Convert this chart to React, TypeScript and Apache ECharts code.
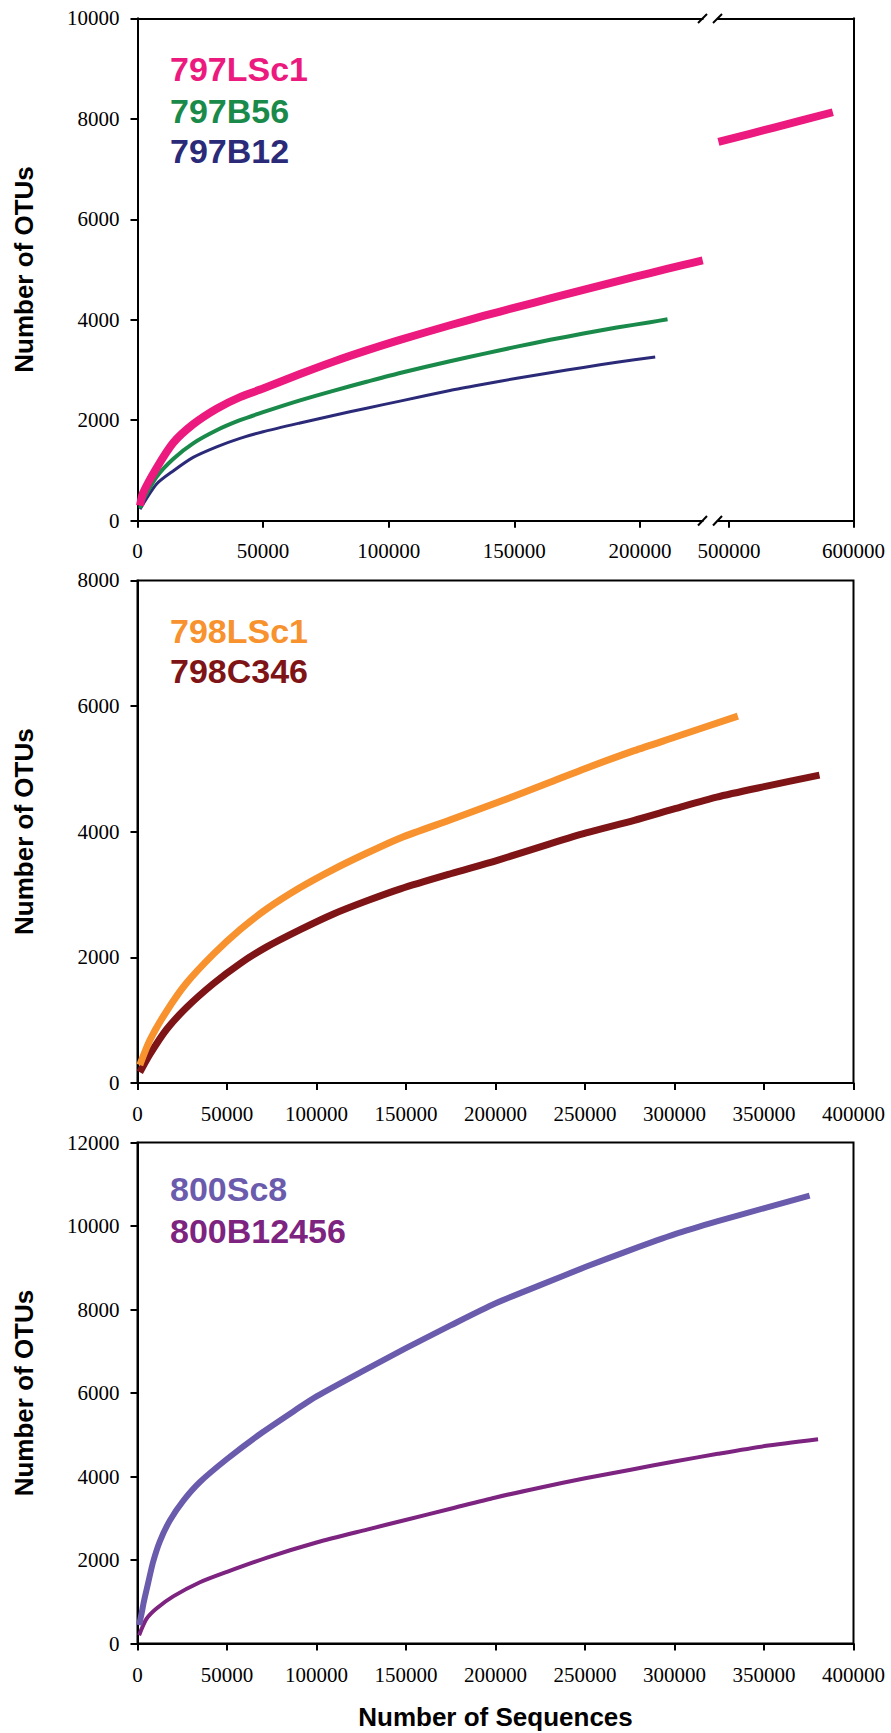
import React, { useEffect, useRef } from "react";
import * as echarts from "echarts";

// ---------- data ----------
// Panel 1 (site 797)
const lsc797Left: [number, number][] = [
  [1000, 300], [2200, 550], [7600, 1050], [14200, 1550], [22150, 1920], [31500, 2230],
  [40800, 2460], [50000, 2630], [64700, 2920], [77900, 3165], [91200, 3390], [104500, 3600],
  [124400, 3890], [137700, 4075], [151000, 4250], [164300, 4425], [177500, 4595],
  [190800, 4765], [204100, 4930], [217400, 5090], [225000, 5180],
];
const lsc797Right: [number, number][] = [
  [491500, 7540], [537000, 7830], [583400, 8130],
];
const b56_797: [number, number][] = [
  [1000, 250], [2200, 410], [7600, 875], [14200, 1230], [22150, 1540], [31500, 1800],
  [40800, 2000], [50000, 2160], [64700, 2395], [77900, 2585], [91200, 2765], [104500, 2940],
  [124400, 3175], [137700, 3320], [151000, 3465], [164300, 3600], [177500, 3725],
  [190800, 3845], [204100, 3950], [211000, 4010],
];
const b12_797: [number, number][] = [
  [1000, 230], [7600, 730], [14200, 990], [22150, 1260], [31500, 1470], [40800, 1640],
  [50000, 1770], [64700, 1945], [77900, 2095], [91200, 2240], [104500, 2380], [124400, 2590],
  [137700, 2715], [151000, 2835], [164300, 2945], [177500, 3050], [190800, 3155], [206100, 3260],
];
// Panel 2 (site 798)
const lsc798: [number, number][] = [
  [1300, 285], [6900, 680], [16200, 1140], [27400, 1590], [42400, 2050], [57300, 2440],
  [72200, 2770], [90900, 3110], [109500, 3400], [128200, 3660], [146900, 3900], [174900, 4190],
  [200600, 4460], [230800, 4790], [250600, 5010], [277500, 5290], [300800, 5510], [335400, 5840],
];
const c346_798: [number, number][] = [
  [1300, 170], [6900, 455], [16200, 850], [27400, 1200], [42400, 1580], [57300, 1900],
  [72200, 2165], [90900, 2440], [109500, 2690], [128200, 2900], [146900, 3090], [174900, 3330],
  [200600, 3540], [230800, 3810], [250600, 3980], [277500, 4180], [300800, 4370],
  [323600, 4550], [350800, 4720], [381000, 4900],
];
// Panel 3 (site 800)
const sc8_800: [number, number][] = [
  [900, 440], [2240, 710], [3530, 1000], [5940, 1450], [8740, 1960], [12490, 2450],
  [18080, 2950], [25530, 3420], [34880, 3870], [50000, 4420], [68500, 5020], [87100, 5560],
  [100000, 5920], [128200, 6580], [149700, 7070], [174900, 7620], [200100, 8150],
  [225300, 8590], [250100, 9017], [275600, 9430], [299900, 9800], [324200, 10116],
  [350300, 10430], [375500, 10730],
];
const b12456_800: [number, number][] = [
  [900, 200], [5000, 590], [10600, 840], [19950, 1130], [34880, 1470], [50000, 1720],
  [72420, 2060], [100000, 2420], [128200, 2730], [149700, 2960], [174900, 3230],
  [200100, 3500], [225300, 3740], [250100, 3960], [275600, 4165], [299900, 4360],
  [324200, 4545], [350300, 4730], [380200, 4895],
];

// tick values
const topLeftXTicks = [0, 50000, 100000, 150000, 200000];
const topRightXTicks = [500000, 600000];
const topYMax = 10000;
const midXMax = 400000;
const midYMax = 8000;
const botXMax = 400000;
const botYMax = 12000;

const names = {
  p1: ["797LSc1", "797B56", "797B12"],
  p2: ["798LSc1", "798C346"],
  p3: ["800Sc8", "800B12456"],
};
const colors: Record<string, string> = {
  "797LSc1": "#EC1A7E",
  "797B56": "#1A8A4A",
  "797B12": "#2B2A78",
  "798LSc1": "#F7922E",
  "798C346": "#7E1416",
  "800Sc8": "#6B5BAD",
  "800B12456": "#7D2380",
};
const widths: Record<string, number> = {
  "797LSc1": 8, "797B56": 4, "797B12": 3,
  "798LSc1": 7, "798C346": 7,
  "800Sc8": 6, "800B12456": 4,
};

const SERIF = "Liberation Serif, Times New Roman, serif";
const SANS = "Liberation Sans, Arial, Helvetica, sans-serif";

export default function App() {
  const ref = useRef<HTMLDivElement>(null);

  useEffect(() => {
    if (!ref.current) return;
    const chart = echarts.init(ref.current, undefined, { renderer: "svg" });

    const labelStyle = {
      color: "#000",
      fontFamily: SERIF,
      fontSize: 21,
      formatter: (v: number) => String(v),
    };
    const line = { show: true, lineStyle: { color: "#000", width: 2 } };
    const tick = { show: true, length: 7, lineStyle: { color: "#000", width: 2 } };
    const nameStyle = { color: "#000", fontFamily: SANS, fontSize: 26, fontWeight: "bold" as const };

    const plainX = (gridIndex: number, min: number, max: number, position: string) => ({
      type: "value", gridIndex, min, max, position,
      axisLine: line, axisTick: { show: false }, axisLabel: { show: false }, splitLine: { show: false },
    });

    const grids = [
      { left: 137.5, top: 18.3, width: 565.2, height: 502.4 },
      { left: 717.8, top: 18.3, width: 135.7, height: 502.4 },
      { left: 137.5, top: 580.4, width: 716, height: 502.5, show: true, borderColor: "#000", borderWidth: 2, backgroundColor: "transparent" },
      { left: 137.5, top: 1142.5, width: 716, height: 501.1, show: true, borderColor: "#000", borderWidth: 2, backgroundColor: "transparent" },
    ].map((g) => ({ ...g, containLabel: false, outerBoundsMode: "none" }));

    const xAxis = [
      {
        type: "value", gridIndex: 0, min: 0, max: 225000, position: "bottom",
        axisLine: line,
        axisTick: { ...tick, customValues: topLeftXTicks },
        axisLabel: { ...labelStyle, margin: 20, customValues: topLeftXTicks },
        splitLine: { show: false },
      },
      plainX(0, 0, 225000, "top"),
      {
        type: "value", gridIndex: 1, min: 491000, max: 600000, position: "bottom",
        axisLine: line,
        axisTick: { ...tick, customValues: topRightXTicks },
        axisLabel: { ...labelStyle, margin: 20, customValues: topRightXTicks },
        splitLine: { show: false },
      },
      plainX(1, 491000, 600000, "top"),
      {
        type: "value", gridIndex: 2, min: 0, max: midXMax, interval: 50000, position: "bottom",
        axisLine: line, axisTick: tick, axisLabel: { ...labelStyle, margin: 21 }, splitLine: { show: false },
      },
      {
        type: "value", gridIndex: 3, min: 0, max: botXMax, interval: 50000, position: "bottom",
        axisLine: line, axisTick: tick, axisLabel: { ...labelStyle, margin: 21 }, splitLine: { show: false },
        name: "Number of Sequences", nameLocation: "middle", nameGap: 60, nameTextStyle: nameStyle,
      },
    ];

    const yName = {
      name: "Number of OTUs", nameLocation: "middle", nameGap: 101, nameRotate: 90, nameTextStyle: nameStyle,
    };
    const yAxis = [
      {
        type: "value", gridIndex: 0, min: 0, max: topYMax, interval: 2000, position: "left",
        axisLine: line, axisTick: tick, axisLabel: { ...labelStyle, margin: 18 }, splitLine: { show: false },
        ...yName,
      },
      {
        type: "value", gridIndex: 1, min: 0, max: topYMax, position: "right",
        axisLine: line, axisTick: { show: false }, axisLabel: { show: false }, splitLine: { show: false },
      },
      {
        type: "value", gridIndex: 2, min: 0, max: midYMax, interval: 2000, position: "left",
        axisLine: line, axisTick: tick, axisLabel: { ...labelStyle, margin: 18 }, splitLine: { show: false },
        ...yName,
      },
      {
        type: "value", gridIndex: 3, min: 0, max: botYMax, interval: 2000, position: "left",
        axisLine: line, axisTick: tick, axisLabel: { ...labelStyle, margin: 18 }, splitLine: { show: false },
        ...yName,
      },
    ];

    const mk = (name: string, data: [number, number][], xi: number, yi: number) => ({
      type: "line", name, data, xAxisIndex: xi, yAxisIndex: yi,
      symbol: "none", showSymbol: false, smooth: 0.25,
      lineStyle: { color: colors[name], width: widths[name], cap: "butt", join: "round" },
      itemStyle: { color: colors[name] },
      emphasis: { disabled: true },
      z: 3,
    });

    const series = [
      mk("797B12", b12_797, 0, 0),
      mk("797B56", b56_797, 0, 0),
      mk("797LSc1", lsc797Left, 0, 0),
      mk("797LSc1", lsc797Right, 2, 1),
      mk("798C346", c346_798, 4, 2),
      mk("798LSc1", lsc798, 4, 2),
      mk("800B12456", b12456_800, 5, 3),
      mk("800Sc8", sc8_800, 5, 3),
    ];

    const legendText = (text: string, x: number, y: number) => ({
      type: "text", x, y, z: 10,
      style: {
        text, fill: colors[text], fontFamily: SANS, fontSize: 34, fontWeight: "bold",
        verticalAlign: "middle", align: "left",
      },
    });
    const slash = (x1: number, y1: number, x2: number, y2: number) => ({
      type: "line", z: 10,
      shape: { x1, y1, x2, y2 },
      style: { stroke: "#000", lineWidth: 2 },
    });

    const graphic = [
      legendText(names.p1[0], 170, 69.2),
      legendText(names.p1[1], 170, 111.2),
      legendText(names.p1[2], 170, 150.8),
      legendText(names.p2[0], 170, 630.8),
      legendText(names.p2[1], 170, 671),
      legendText(names.p3[0], 170, 1189.2),
      legendText(names.p3[1], 170, 1231),
      slash(698, 23, 707, 14),
      slash(713, 23, 722, 14),
      slash(698, 525.5, 707, 516),
      slash(713, 525.5, 722, 516),
    ];

    chart.setOption({
      animation: false,
      backgroundColor: "#fff",
      textStyle: { fontFamily: SERIF },
      grid: grids,
      xAxis,
      yAxis,
      series,
      graphic,
    });

    return () => chart.dispose();
  }, []);

  return (
    <div
      ref={ref}
      style={{ position: "absolute", left: 0, top: 0, width: 891, height: 1733, background: "#fff" }}
    />
  );
}
